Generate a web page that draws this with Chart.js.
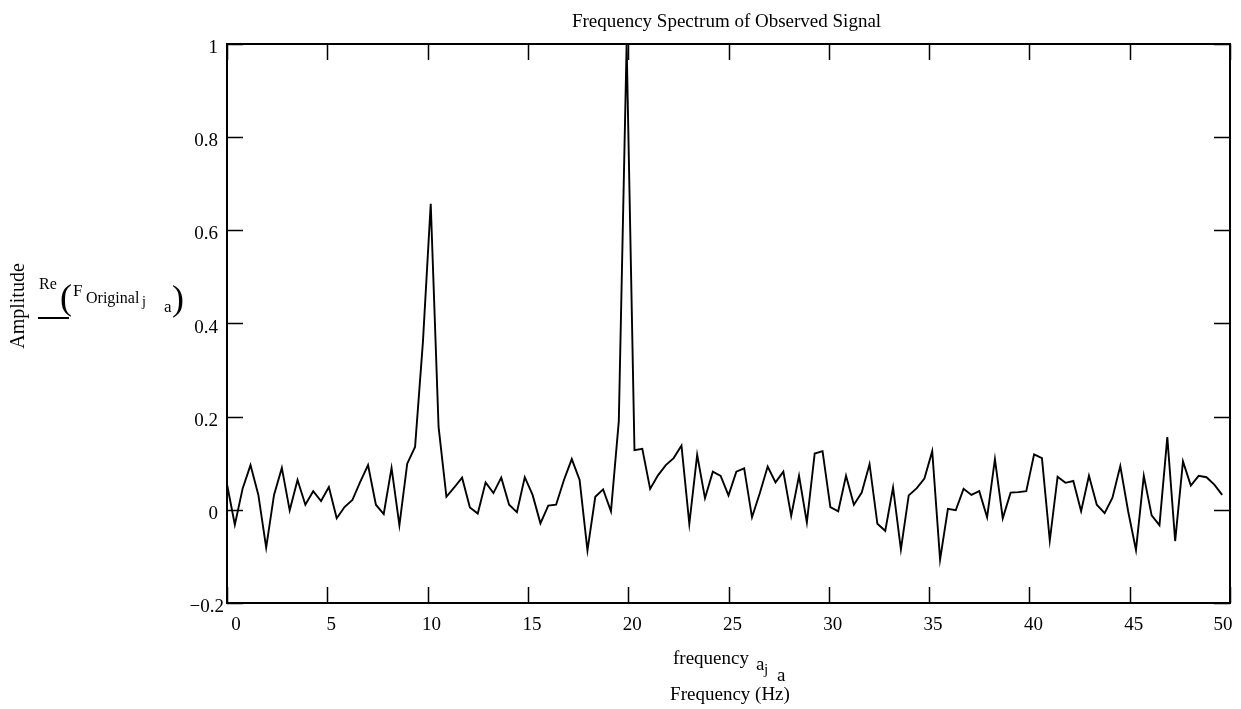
<!DOCTYPE html>
<html><head><meta charset="utf-8">
<script src="https://cdn.jsdelivr.net/npm/chart.js@4/dist/chart.umd.min.js"></script>
<style>html,body{margin:0;padding:0;background:#fff;overflow:hidden}#wrap{width:1241px;height:709px}</style>
</head><body><div id="wrap"><canvas id="c" width="1241" height="709"></canvas></div>
<script>
const frequency = [
0, 0.391, 0.781, 1.172, 1.563, 1.953, 2.344, 2.734,
3.125, 3.516, 3.906, 4.297, 4.688, 5.078, 5.469, 5.859,
6.25, 6.641, 7.031, 7.422, 7.813, 8.203, 8.594, 8.984,
9.375, 9.766, 10.156, 10.547, 10.938, 11.328, 11.719, 12.109,
12.5, 12.891, 13.281, 13.672, 14.063, 14.453, 14.844, 15.234,
15.625, 16.016, 16.406, 16.797, 17.188, 17.578, 17.969, 18.359,
18.75, 19.141, 19.531, 19.922, 20.313, 20.703, 21.094, 21.484,
21.875, 22.266, 22.656, 23.047, 23.438, 23.828, 24.219, 24.609,
25, 25.391, 25.781, 26.172, 26.563, 26.953, 27.344, 27.734,
28.125, 28.516, 28.906, 29.297, 29.688, 30.078, 30.469, 30.859,
31.25, 31.641, 32.031, 32.422, 32.813, 33.203, 33.594, 33.984,
34.375, 34.766, 35.156, 35.547, 35.938, 36.328, 36.719, 37.109,
37.5, 37.891, 38.281, 38.672, 39.063, 39.453, 39.844, 40.234,
40.625, 41.016, 41.406, 41.797, 42.188, 42.578, 42.969, 43.359,
43.75, 44.141, 44.531, 44.922, 45.313, 45.703, 46.094, 46.484,
46.875, 47.266, 47.656, 48.047, 48.438, 48.828, 49.219, 49.609
];
const amplitude = [
0.055, -0.032, 0.046, 0.096, 0.032, -0.081, 0.032, 0.090,
-0.001, 0.064, 0.011, 0.040, 0.019, 0.049, -0.018, 0.006,
0.021, 0.060, 0.096, 0.011, -0.009, 0.090, -0.033, 0.099,
0.135, 0.360, 0.657, 0.178, 0.028, 0.048, 0.069, 0.005,
-0.008, 0.059, 0.036, 0.069, 0.011, -0.005, 0.070, 0.032,
-0.029, 0.009, 0.011, 0.064, 0.109, 0.064, -0.087, 0.028,
0.044, -0.003, 0.190, 1.000, 0.128, 0.131, 0.045, 0.074,
0.096, 0.111, 0.138, -0.030, 0.118, 0.025, 0.082, 0.073,
0.031, 0.082, 0.089, -0.016, 0.036, 0.093, 0.059, 0.082,
-0.013, 0.073, -0.027, 0.121, 0.126, 0.006, -0.003, 0.073,
0.011, 0.037, 0.098, -0.030, -0.045, 0.048, -0.085, 0.031,
0.046, 0.067, 0.126, -0.107, 0.002, -0.001, 0.045, 0.032,
0.040, -0.016, 0.109, -0.018, 0.037, 0.038, 0.040, 0.119,
0.111, -0.066, 0.071, 0.058, 0.062, -0.003, 0.073, 0.011,
-0.007, 0.026, 0.094, -0.003, -0.086, 0.073, -0.012, -0.033,
0.156, -0.067, 0.104, 0.052, 0.073, 0.070, 0.054, 0.032
];
const xTickValues = [0, 5, 10, 15, 20, 25, 30, 35, 40, 45, 50];
const xTickLabels = ['0', '5', '10', '15', '20', '25', '30', '35', '40', '45', '50'];
const yTickValues = [-0.2, 0, 0.2, 0.4, 0.6, 0.8, 1];
const yTickLabels = ['\u22120.2', '0', '0.2', '0.4', '0.6', '0.8', '1'];
const titleText = 'Frequency Spectrum of Observed Signal';

const SERIF = '"Liberation Serif", "DejaVu Serif", serif';

const points = frequency.map((f, i) => ({ x: f, y: amplitude[i] }));

const decor = {
  id: 'decor',
  afterDraw(chart) {
    const ctx = chart.ctx;
    const a = chart.chartArea;
    const xs = chart.scales.x, ys = chart.scales.y;
    ctx.save();
    ctx.strokeStyle = '#000';
    // frame
    ctx.lineWidth = 2;
    ctx.strokeRect(a.left, a.top, a.right - a.left, a.bottom - a.top);
    // inward ticks
    ctx.lineWidth = 1.5;
    const L = 16;
    ctx.beginPath();
    xTickValues.forEach(v => {
      const px = Math.round(xs.getPixelForValue(v)) + 0.5;
      ctx.moveTo(px, a.bottom); ctx.lineTo(px, a.bottom - L);
      ctx.moveTo(px, a.top); ctx.lineTo(px, a.top + L);
    });
    yTickValues.forEach(v => {
      const py = Math.round(ys.getPixelForValue(v)) + 0.5;
      ctx.moveTo(a.left, py); ctx.lineTo(a.left + L, py);
      ctx.moveTo(a.right, py); ctx.lineTo(a.right - L, py);
    });
    ctx.stroke();

    ctx.fillStyle = '#000';
    ctx.textBaseline = 'alphabetic';
    // x tick labels
    ctx.font = '19px ' + SERIF;
    ctx.textAlign = 'center';
    xTickValues.forEach((v, i) => {
      let off = 4;
      if (i === 0) off = 9;
      if (i === xTickValues.length - 1) off = -7;
      ctx.fillText(xTickLabels[i], xs.getPixelForValue(v) + off, a.bottom + 27);
    });
    // y tick labels
    ctx.textAlign = 'right';
    yTickValues.forEach((v, i) => {
      const xr = (i === 0) ? a.left - 3 : a.left - 9;
      ctx.fillText(yTickLabels[i], xr, ys.getPixelForValue(v) + 9);
    });

    // title
    ctx.font = '19px ' + SERIF;
    ctx.textAlign = 'center';
    ctx.fillText(titleText, (a.left + a.right) / 2 - 2, 27);

    // x-axis expression label
    ctx.font = '19px ' + SERIF;
    ctx.textAlign = 'left';
    ctx.fillText('frequency', 673, 664);
    ctx.fillText('a', 756, 670);
    ctx.font = '15px ' + SERIF;
    ctx.fillText('j', 764, 674);
    ctx.font = '19px ' + SERIF;
    ctx.fillText('a', 777, 681);
    ctx.textAlign = 'center';
    ctx.fillText('Frequency (Hz)', 730, 700);

    // y-axis label
    ctx.save();
    ctx.translate(19, 306);
    ctx.rotate(-Math.PI / 2);
    ctx.textAlign = 'center';
    ctx.textBaseline = 'middle';
    ctx.font = '20px ' + SERIF;
    ctx.fillText('Amplitude', 0, 0);
    ctx.restore();

    ctx.textAlign = 'left';
    ctx.textBaseline = 'alphabetic';
    ctx.font = '16px ' + SERIF;
    ctx.fillText('Re', 39, 289);
    ctx.font = '36px ' + SERIF;
    ctx.fillText('(', 60, 309);
    ctx.font = '17px ' + SERIF;
    ctx.fillText('F', 73, 296);
    ctx.font = '16px ' + SERIF;
    ctx.fillText('Original', 86, 303);
    ctx.font = '14px ' + SERIF;
    ctx.fillText('j', 142, 306);
    ctx.font = '17px ' + SERIF;
    ctx.fillText('a', 164, 312);
    ctx.font = '36px ' + SERIF;
    ctx.fillText(')', 172, 310);
    ctx.lineWidth = 2;
    ctx.beginPath();
    ctx.moveTo(38, 318); ctx.lineTo(69, 318);
    ctx.stroke();
    ctx.restore();
  }
};

new Chart(document.getElementById('c'), {
  type: 'line',
  data: {
    datasets: [{
      data: points,
      borderColor: '#000',
      borderWidth: 1.9,
      pointRadius: 0,
      tension: 0,
      fill: false
    }]
  },
  options: {
    responsive: false,
    animation: false,
    devicePixelRatio: 1,
    layout: { padding: { top: 44, right: 11, left: 0, bottom: 0 } },
    plugins: { legend: { display: false }, tooltip: { enabled: false }, title: { display: false } },
    scales: {
      x: {
        type: 'linear', min: 0, max: 50,
        afterBuildTicks: s => { s.ticks = xTickValues.map(v => ({ value: v })); },
        afterFit: s => { s.height = 106; },
        grid: { display: false, drawTicks: false },
        border: { display: false },
        ticks: { display: false }
      },
      y: {
        type: 'linear', min: -0.2, max: 1,
        afterBuildTicks: s => { s.ticks = yTickValues.map(v => ({ value: v })); },
        afterFit: s => { s.width = 227; },
        grid: { display: false, drawTicks: false },
        border: { display: false },
        ticks: { display: false }
      }
    }
  },
  plugins: [decor]
});
</script>
</body></html>
